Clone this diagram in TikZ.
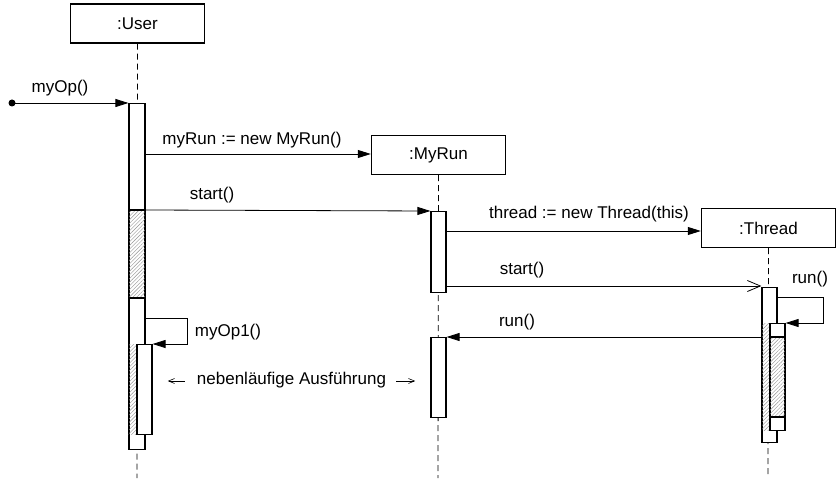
\documentclass[tikz,border=0pt]{standalone}
\usepackage{fontspec}
\setmainfont{Liberation Sans}
\usetikzlibrary{arrows.meta,patterns.meta}

\tikzset{
  x=1pt, y=-1pt,
  every node/.style={font=\fontsize{17}{20}\selectfont},
  obj/.style={draw, line width=1.4pt, fill=white, minimum width=134pt, minimum height=39pt, inner sep=0pt},
  bar/.style={draw, line width=1.2pt, fill=white, minimum width=16pt, inner sep=0pt, anchor=north},
  life/.style={line width=0.8pt, dash pattern=on 6pt off 4pt},
  hatch/.style={pattern={Lines[angle=45,distance=2.6pt,line width=0.4pt]}, pattern color=gray!85},
  msg/.style={line width=0.8pt, -{Triangle[length=13pt,width=8pt]}},
  async/.style={line width=0.8pt, -{Straight Barb[length=13pt,width=11pt,line width=0.8pt]}},
  small/.style={line width=0.6pt, -{Straight Barb[length=6pt,width=5pt,line width=0.6pt]}},
  lbl/.style={inner sep=0pt}
}

\begin{document}
\begin{tikzpicture}
\useasboundingbox (0,0) rectangle (840,489);

% objects
\node[obj] (user)   at (137.5,23.5)  {:User};
\node[obj] (myrun)  at (438.5,155)   {:MyRun};
\node[obj] (thread) at (768.5,228)   {:Thread};

% lifeline end points
\coordinate (uend) at (137,478);
\coordinate (mend) at (438,478);
\coordinate (tend) at (768,478);

% lifelines
\draw[life] (user.south)   -- (uend);
\draw[life] (myrun.south)  -- (mend);
\draw[life] (thread.south) -- (tend);

% activation of :User
\node[bar, minimum height=346pt] (ub) at (137,103) {};
\draw[line width=1.2pt, hatch] (ub.west |- 0,210) rectangle (ub.east |- 0,298);
\fill[hatch] (ub.west |- 0,344) rectangle (137,434);
\draw[line width=1.2pt] (ub.west |- 0,344) -- (ub.west |- 0,434);
\node[bar, minimum width=15pt, minimum height=90pt] (ub2) at (144.5,344) {};

% activations of :MyRun
\node[bar, minimum width=15pt, minimum height=81pt] (mb1) at (438.5,211) {};
\node[bar, minimum width=15pt, minimum height=80pt] (mb2) at (438.5,337) {};

% activation of :Thread
\node[bar, minimum width=15pt, minimum height=155pt] (tb) at (769.5,287) {};
\fill[hatch] (tb.west |- 0,323) rectangle (770,430);
\draw[line width=1.2pt] (tb.west |- 0,323) -- (tb.west |- 0,430);
\node[bar, minimum width=15pt, minimum height=107pt] (tb2) at (777.5,323) {};
\draw[line width=1.2pt, hatch] (tb2.west |- 0,337) rectangle (tb2.east |- 0,417);

% incoming call
\coordinate (src) at (12,103);
\fill (src) circle (3.5pt);
\draw[msg] (src) -- (ub.north west);
\node[lbl] (l0) at (60,88) {myOp()};

% messages
\draw[msg] (ub.east |- 0,154) -- (myrun.west |- 0,154);
\node[lbl] (l1) at (252,140) {myRun := new MyRun()};

\draw[msg] (ub.east |- 0,210) -- (mb1.north west);
\node[lbl] (l2) at (212,195) {start()};

\draw[msg] (mb1.east |- 0,231) -- (thread.west |- 0,231);
\node[lbl] (l3) at (589,214) {thread := new Thread(this)};

\draw[async] (mb1.east |- 0,286) -- (tb.west |- 0,286);
\node[lbl] (l4) at (522,270) {start()};

% self call on :Thread
\coordinate (tr) at (823,297);
\draw[line width=0.8pt] (tb.east |- 0,297) -- (tr);
\draw[msg] (tr) |- (tb2.north east);
\node[lbl] (l5) at (810,279) {run()};

\draw[msg] (tb.west |- 0,337) -- (mb2.north east);
\node[lbl] (l6) at (517,322) {run()};

% self call on :User
\coordinate (ur) at (187,318);
\draw[line width=0.8pt] (ub.east |- 0,318) -- (ur);
\draw[msg] (ur) |- (ub2.north east);
\node[lbl] (l7) at (228,332) {myOp1()};

% concurrency note
\node[lbl] (note) at (291.5,380) {nebenläufige Ausführung};
\draw[small] (note.west) ++(-12,1) coordinate (nl) -- ++(-17,0);
\draw[small] (note.east) ++(10,1) coordinate (nr) -- ++(19,0);
\end{tikzpicture}
\end{document}
